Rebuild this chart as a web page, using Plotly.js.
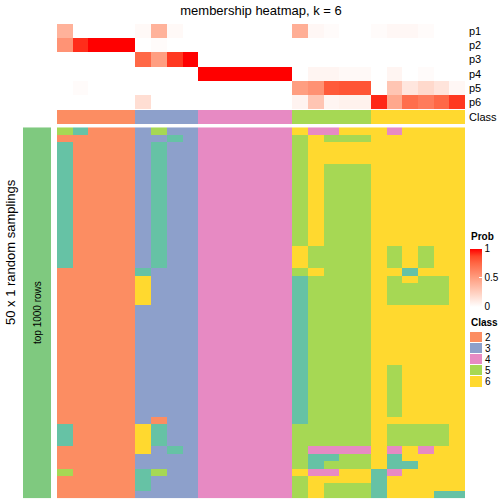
<!DOCTYPE html>
<html>
<head>
<meta charset="utf-8">
<script src="https://cdn.plot.ly/plotly-3.0.1.min.js"></script>
<style>html,body{margin:0;padding:0;background:#fff;}#chart{width:504px;height:504px;}</style>
</head>
<body>
<div id="chart"></div>
<script>
// ---- data ----
const probLabels = ['p1', 'p2', 'p3', 'p4', 'p5', 'p6'];
const p1 = [0.40,0,0,0,0, 0.03,0.40,0.03,0, 0,0,0,0,0,0, 0.42,0.04,0.02,0,0, 0.02,0.04,0.04,0.02,0,0];
const p2 = [0.55,0.92,1,1,1, 0,0.02,0,0, 0,0,0,0,0,0, 0,0,0,0,0, 0,0,0,0,0,0];
const p3 = [0,0,0,0,0, 0.75,0.50,0.90,1, 0,0,0,0,0,0, 0,0,0,0,0, 0,0,0,0,0,0];
const p4 = [0,0,0,0,0, 0,0,0,0, 1,1,1,1,1,1, 0,0.05,0.05,0.03,0.03, 0,0.05,0,0.02,0,0];
const p5 = [0,0.02,0,0,0, 0,0,0,0, 0,0,0,0,0,0, 0.50,0.56,0.80,0.82,0.82, 0,0.30,0.13,0.20,0.14,0.04];
const p6 = [0,0,0,0,0, 0.17,0,0,0, 0,0,0,0,0,0, 0.06,0.30,0.05,0.07,0.07, 0.93,0.45,0.72,0.66,0.75,0.90];
const classLabel = 'Class';
const sampleClass = [2,2,2,2,2, 3,3,3,3, 4,4,4,4,4,4, 5,5,5,5,5, 6,6,6,6,6,6];
// membership of each sample (column) in each of the 50 random samplings (rows)
const samplingRows = [
 '51222 3533 444444 64466 646666',
 '22222 3313 444444 56555 666666',
 '12222 3133 444444 56666 666666',
 '12222 3133 444444 56666 666666',
 '12222 3133 444444 56666 666666',
 '12222 3133 444444 56555 666666',
 '12222 3133 444444 56555 666666',
 '12222 3133 444444 56555 666666',
 '12222 3133 444444 56555 666666',
 '12222 3133 444444 56555 666666',
 '12222 3133 444444 56555 666666',
 '12222 3133 444444 56555 666666',
 '12222 3133 444444 56555 666666',
 '12222 3133 444444 56555 666666',
 '12222 3133 444444 56555 666666',
 '12222 3133 444444 56555 666666',
 '12222 3133 444444 65555 656566',
 '12222 3133 444444 65555 656566',
 '12222 3133 444444 65555 656566',
 '22222 1333 444444 56555 661666',
 '22222 6333 444444 15555 656556',
 '22222 6333 444444 15555 655556',
 '22222 6333 444444 15555 655556',
 '22222 6333 444444 15555 655556',
 '22222 3333 444444 15555 666666',
 '22222 3333 444444 15555 666666',
 '22222 3333 444444 15555 666666',
 '22222 3333 444444 15555 666666',
 '22222 3333 444444 15555 666666',
 '22222 3333 444444 15555 666666',
 '22222 3333 444444 15555 666666',
 '22222 3333 444444 15555 666666',
 '22222 3333 444444 15555 656666',
 '22222 3333 444444 15555 656666',
 '22222 3333 444444 15555 656666',
 '22222 3333 444444 15555 656666',
 '22222 3333 444444 15555 656666',
 '22222 3333 444444 15555 656666',
 '22222 3333 444444 15555 656666',
 '22222 3233 444444 15555 666666',
 '12222 6133 444444 55555 655556',
 '12222 6133 444444 55555 655556',
 '12222 6133 444444 55555 655556',
 '22222 6313 444444 54444 646466',
 '22222 3333 444444 51155 616666',
 '22222 3333 444444 51555 611666',
 '52222 1533 444444 64466 146666',
 '22222 1333 444444 56666 166666',
 '22222 1333 444444 56555 166666',
 '22222 3333 444444 56555 166611'
];
const legendClasses = ['2', '3', '4', '5', '6'];
const probTicks = [0, 0.5, 1];
const rowGroupLabel = 'top 1000 rows';
const leftTitle = '50 x 1 random samplings';
const chartTitle = 'membership heatmap, k = 6';

// ---- styling ----
const classColors = {1:'#66C2A5', 2:'#FC8D62', 3:'#8DA0CB', 4:'#E78AC3', 5:'#A6D854', 6:'#FFD92F'};
function stepScale(){
  const cs = [];
  for (let k = 1; k <= 6; k++){
    const lo = Math.max(0, (k - 1.5) / 5), hi = Math.min(1, (k - 0.5) / 5);
    cs.push([lo, classColors[k]]); cs.push([hi, classColors[k]]);
  }
  return cs;
}
const classScale = stepScale();
const probScale = [[0,'#FFFFFF'],[0.25,'#FFCFBF'],[0.5,'#FF9E81'],[0.75,'#FF6846'],[0.875,'#FF4628'],[1,'#FF0000']];

const W = 504, H = 504;
const px = v => v / W;
const py = v => (H - v) / H;

const nCols = sampleClass.length;
const cols = sampleClass.map((_, i) => i);
const probZ = [p1, p2, p3, p4, p5, p6];
const mainZ = samplingRows.map(r => r.replace(/ /g, '').split('').map(Number));

const font = 'Arial, "Liberation Sans", sans-serif';

const traces = [
  { type:'heatmap', z: probZ, x: cols, y: probLabels.map((_, i) => i), xaxis:'x', yaxis:'y',
    colorscale: probScale, zmin:0, zmax:1, hoverinfo:'skip',
    colorbar: { x: px(470), xanchor:'left', xpad:0, ypad:0, thickness:12, thicknessmode:'pixels',
      len:58, lenmode:'pixels', y: py(277.5), yanchor:'middle', outlinewidth:0,
      tickvals: probTicks, ticktext: probTicks.map(String), ticks:'inside', ticklen:3, tickcolor:'#FFFFFF',
      tickfont:{size:10, family:font, color:'#000'} } },
  { type:'heatmap', z: [sampleClass], x: cols, y: [0], xaxis:'x', yaxis:'y2',
    colorscale: classScale, zmin:1, zmax:6, showscale:false, hoverinfo:'skip' },
  { type:'heatmap', z: mainZ, x: cols, y: mainZ.map((_, i) => i), xaxis:'x', yaxis:'y3',
    colorscale: classScale, zmin:1, zmax:6, showscale:false, hoverinfo:'skip' },
  { type:'heatmap', z: [[1]], x:[0], y:[0], xaxis:'x2', yaxis:'y5',
    colorscale: [[0,'#7FC97F'],[1,'#7FC97F']], showscale:false, hoverinfo:'skip' },
  { type:'heatmap', z: legendClasses.map(c => [Number(c)]), x:[0], y: legendClasses.map((_, i) => i),
    xaxis:'x3', yaxis:'y4', colorscale: classScale, zmin:1, zmax:6, showscale:false, ygap:1, hoverinfo:'skip' }
];

const hidden = { showgrid:false, zeroline:false, showline:false, showticklabels:false, ticks:'', fixedrange:true };

const layout = {
  width: W, height: H, margin:{l:0, r:0, t:0, b:0}, paper_bgcolor:'#fff', plot_bgcolor:'rgba(0,0,0,0)',
  showlegend:false,
  font:{family:font, color:'#000'},
  title:{ text: chartTitle, font:{size:13, family:font, color:'#000'}, x: px(261), xanchor:'center',
    y: py(10), yanchor:'middle', xref:'paper', yref:'paper' },
  xaxis: Object.assign({}, hidden, { domain:[px(57), px(465)], range:[-0.5, nCols - 0.5], anchor:'y3' }),
  yaxis: Object.assign({}, hidden, { domain:[py(109.3), py(24)], range:[5.5, -0.5], anchor:'x',
    side:'right', showticklabels:true, tickvals:[0,1,2,3,4,5], ticktext: probLabels,
    tickfont:{size:11, family:font, color:'#000'}, ticklabelstandoff:3 }),
  yaxis2: Object.assign({}, hidden, { domain:[py(124), py(110)], range:[-0.5, 0.5], anchor:'x',
    side:'right', showticklabels:true, tickvals:[0], ticktext:[classLabel],
    tickfont:{size:11, family:font, color:'#000'}, ticklabelstandoff:3 }),
  yaxis3: Object.assign({}, hidden, { domain:[py(498.2), py(127.3)], range:[mainZ.length - 0.5, -0.5], anchor:'x' }),
  xaxis2: Object.assign({}, hidden, { domain:[px(23), px(51)], range:[-0.5, 0.5], anchor:'y5' }),
  yaxis5: Object.assign({}, hidden, { domain:[py(498.2), py(127.3)], range:[-0.5, 0.5], anchor:'x2' }),
  xaxis3: Object.assign({}, hidden, { domain:[px(470), px(482)], range:[-0.5, 0.5], anchor:'y4' }),
  yaxis4: Object.assign({}, hidden, { domain:[py(387.5), py(332)], range:[4.5, -0.5], anchor:'x3',
    side:'right', showticklabels:true, tickvals:[0,1,2,3,4], ticktext: legendClasses,
    tickfont:{size:10, family:font, color:'#000'}, ticklabelstandoff:2 }),
  annotations: [
    { text: rowGroupLabel, xref:'paper', yref:'paper', x: px(37), y: py(313), textangle:-90,
      showarrow:false, font:{size:10, family:font, color:'#000'}, xanchor:'center', yanchor:'middle' },
    { text: leftTitle, xref:'paper', yref:'paper', x: px(10), y: py(252), textangle:-90,
      showarrow:false, font:{size:13, family:font, color:'#000'}, xanchor:'center', yanchor:'middle' },
    { text: '<b>Prob</b>', xref:'paper', yref:'paper', x: px(469), y: py(236), xanchor:'left', yanchor:'middle',
      showarrow:false, font:{size:10, family:font, color:'#000'} },
    { text: '<b>Class</b>', xref:'paper', yref:'paper', x: px(469), y: py(322), xanchor:'left', yanchor:'middle',
      showarrow:false, font:{size:10, family:font, color:'#000'} }
  ]
};

Plotly.newPlot('chart', traces, layout, {staticPlot:true, displayModeBar:false});
</script>
</body>
</html>
